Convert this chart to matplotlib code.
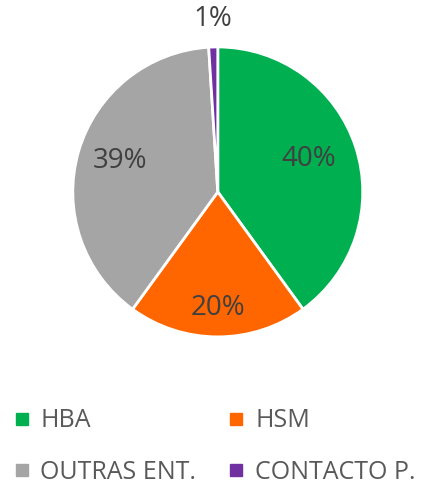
import numpy as np
import matplotlib.pyplot as plt
from matplotlib.lines import Line2D

labels = ['HBA', 'HSM', 'OUTRAS ENT.', 'CONTACTO P.']
values = [40, 20, 39, 1]
colors = ['#00B050', '#FF6600', '#A5A5A5', '#7030A0']
pct_text = ['40%', '20%', '39%', '1%']
# how far from centre each label sits (fraction of radius)
label_dist = [0.66, 0.82, 0.70, 1.17]

plt.rcParams['font.family'] = ['Open Sans', 'DejaVu Sans']

fig = plt.figure(figsize=(4.36, 4.86), dpi=100)
ax = fig.add_axes([0.167, 0.3066, 0.665, 0.597])

wedges, _ = ax.pie(values, colors=colors, startangle=90, counterclock=False,
                   wedgeprops=dict(edgecolor='white', linewidth=2))
ax.set_xlim(-1, 1)
ax.set_ylim(-1, 1)
ax.set_aspect('equal')

for w, txt, d in zip(wedges, pct_text, label_dist):
    ang = np.deg2rad((w.theta1 + w.theta2) / 2)
    ax.text(d * np.cos(ang), d * np.sin(ang) + 0.02, txt, ha='center', va='center',
            fontsize=20, color='#404040', clip_on=False)

# legend filled row by row: reorder for matplotlib's column-first layout
order = [0, 2, 1, 3]
handles = [Line2D([], [], marker='s', linestyle='none', markersize=9,
                  markerfacecolor=colors[i], markeredgecolor=colors[i]) for i in order]
fig.legend(handles, [labels[i] for i in order], ncol=2, loc='lower left',
           bbox_to_anchor=(0.035, 0.003), borderaxespad=0, borderpad=0,
           frameon=False, fontsize=18,
           labelcolor='#595959', handlelength=0.5, handletextpad=0.5,
           columnspacing=1.35, labelspacing=1.05)

fig.savefig('out.png', dpi=100)
